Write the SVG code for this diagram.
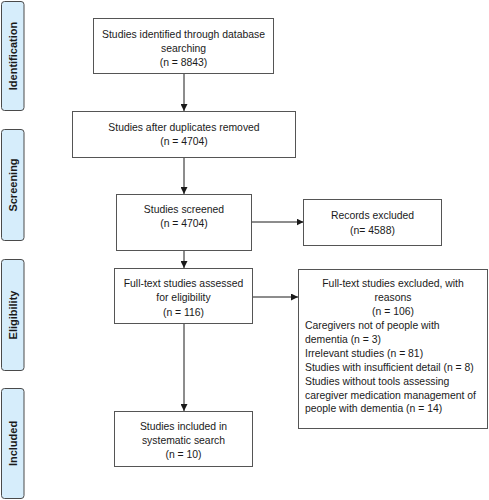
<svg xmlns="http://www.w3.org/2000/svg" width="489" height="500" viewBox="0 0 489 500">
<style>
.bg{fill:#ffffff}
.side{fill:#d6edfb;stroke:#4a4a4a;stroke-width:1}
.box{fill:#ffffff;stroke:#555555;stroke-width:1}
.st{font-family:"Liberation Sans",Arial,sans-serif;font-size:11px;font-weight:bold;fill:#1a1a1a;text-anchor:middle}
.t{font-family:"Liberation Sans",Arial,sans-serif;font-size:10.4px;fill:#1a1a1a;text-anchor:middle}
.tl{font-family:"Liberation Sans",Arial,sans-serif;font-size:10.4px;fill:#1a1a1a;text-anchor:start}
.c{stroke:#1a1a1a;stroke-width:1;fill:none;marker-end:url(#ah)}
</style>
<defs>
<marker id="ah" viewBox="0 0 10 10" refX="10" refY="5" markerWidth="7" markerHeight="7" markerUnits="userSpaceOnUse" orient="auto">
<path d="M0,0 L10,5 L0,10 Z" fill="#1a1a1a"/>
</marker>
</defs>
<rect class="bg" x="0" y="0" width="489" height="500"/>
<g id="phase-identification">
<rect class="side" x="1.5" y="1.5" width="22.5" height="109" rx="3"/>
<text class="st" transform="translate(16.5,56) rotate(-90)">Identification</text>
</g>
<g id="phase-screening">
<rect class="side" x="1.5" y="129.5" width="22.5" height="111" rx="3"/>
<text class="st" transform="translate(16.5,185) rotate(-90)">Screening</text>
</g>
<g id="phase-eligibility">
<rect class="side" x="1.5" y="259.5" width="22.5" height="111" rx="3"/>
<text class="st" transform="translate(16.5,315) rotate(-90)">Eligibility</text>
</g>
<g id="phase-included">
<rect class="side" x="1.5" y="388.5" width="22.5" height="110" rx="3"/>
<text class="st" transform="translate(16.5,443.5) rotate(-90)">Included</text>
</g>
<g id="connectors">
<line class="c" x1="184" y1="73.5" x2="184" y2="111"/>
<line class="c" x1="184" y1="157.5" x2="184" y2="194"/>
<line class="c" x1="184" y1="250.5" x2="184" y2="268"/>
<line class="c" x1="184" y1="323.5" x2="184" y2="411"/>
<line class="c" x1="252" y1="222" x2="303.5" y2="222"/>
<line class="c" x1="253" y1="297" x2="298" y2="297"/>
</g>
<g id="node-identified">
<rect class="box" x="93.5" y="18.5" width="180" height="55"/>
<text class="t" x="183.5" y="38">Studies identified through database</text>
<text class="t" x="183.5" y="52">searching</text>
<text class="t" x="183.5" y="66">(n = 8843)</text>
</g>
<g id="node-duplicates">
<rect class="box" x="72.5" y="111.5" width="223" height="46"/>
<text class="t" x="184" y="131">Studies after duplicates removed</text>
<text class="t" x="184" y="145">(n = 4704)</text>
</g>
<g id="node-screened">
<rect class="box" x="116.5" y="194.5" width="135" height="56"/>
<text class="t" x="184" y="213">Studies screened</text>
<text class="t" x="184" y="227">(n = 4704)</text>
</g>
<g id="node-records-excluded">
<rect class="box" x="303.5" y="199.5" width="138" height="46"/>
<text class="t" x="372.5" y="219">Records excluded</text>
<text class="t" x="372.5" y="234">(n= 4588)</text>
</g>
<g id="node-fulltext">
<rect class="box" x="114.5" y="268.5" width="138" height="55"/>
<text class="t" x="183.5" y="287">Full-text studies assessed</text>
<text class="t" x="183.5" y="301">for eligibility</text>
<text class="t" x="183.5" y="316">(n = 116)</text>
</g>
<g id="node-fulltext-excluded">
<rect class="box" x="298.5" y="269.5" width="189" height="159"/>
<text class="t" x="393" y="287">Full-text studies excluded, with</text>
<text class="t" x="393" y="301">reasons</text>
<text class="t" x="393" y="315">(n = 106)</text>
<text class="tl" x="305" y="329">Caregivers not of people with</text>
<text class="tl" x="305" y="343">dementia (n = 3)</text>
<text class="tl" x="305" y="357">Irrelevant studies (n = 81)</text>
<text class="tl" x="305" y="371">Studies with insufficient detail (n = 8)</text>
<text class="tl" x="305" y="385">Studies without tools assessing</text>
<text class="tl" x="305" y="399">caregiver medication management of</text>
<text class="tl" x="305" y="412">people with dementia (n = 14)</text>
</g>
<g id="node-included">
<rect class="box" x="114.5" y="411.5" width="138" height="55"/>
<text class="t" x="183.5" y="430">Studies included in</text>
<text class="t" x="183.5" y="444">systematic search</text>
<text class="t" x="183.5" y="458">(n = 10)</text>
</g>
</svg>
